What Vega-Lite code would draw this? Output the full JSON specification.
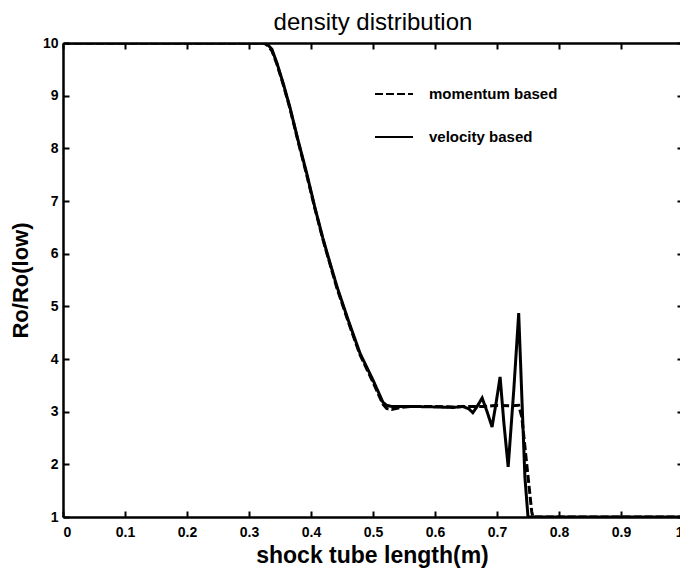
{
  "$schema": "https://vega.github.io/schema/vega-lite/v6.json",
  "width": 620,
  "height": 474,
  "autosize": {"type": "none"},
  "padding": {"left": 63, "top": 43, "right": 0, "bottom": 51},
  "background": "white",
  "title": {
    "text": "density distribution",
    "font": "Liberation Sans",
    "fontSize": 24,
    "fontWeight": "normal",
    "color": "black",
    "anchor": "middle",
    "baseline": "alphabetic",
    "offset": 13,
    "dy": 31
  },
  "data": {
    "values": [
      {"x": 0, "r": 10, "s": "momentum based"},
      {"x": 0.324, "r": 10, "s": "momentum based"},
      {"x": 0.33, "r": 9.95, "s": "momentum based"},
      {"x": 0.337, "r": 9.85, "s": "momentum based"},
      {"x": 0.345, "r": 9.6, "s": "momentum based"},
      {"x": 0.355, "r": 9.22, "s": "momentum based"},
      {"x": 0.366, "r": 8.76, "s": "momentum based"},
      {"x": 0.379, "r": 8.14, "s": "momentum based"},
      {"x": 0.393, "r": 7.5, "s": "momentum based"},
      {"x": 0.406, "r": 6.87, "s": "momentum based"},
      {"x": 0.419, "r": 6.28, "s": "momentum based"},
      {"x": 0.426, "r": 5.99, "s": "momentum based"},
      {"x": 0.442, "r": 5.34, "s": "momentum based"},
      {"x": 0.46, "r": 4.71, "s": "momentum based"},
      {"x": 0.479, "r": 4.08, "s": "momentum based"},
      {"x": 0.5, "r": 3.56, "s": "momentum based"},
      {"x": 0.516, "r": 3.14, "s": "momentum based"},
      {"x": 0.522, "r": 3.06, "s": "momentum based"},
      {"x": 0.53, "r": 3.04, "s": "momentum based"},
      {"x": 0.545, "r": 3.08, "s": "momentum based"},
      {"x": 0.56, "r": 3.1, "s": "momentum based"},
      {"x": 0.6, "r": 3.1, "s": "momentum based"},
      {"x": 0.63, "r": 3.09, "s": "momentum based"},
      {"x": 0.66, "r": 3.1, "s": "momentum based"},
      {"x": 0.68, "r": 3.1, "s": "momentum based"},
      {"x": 0.7, "r": 3.12, "s": "momentum based"},
      {"x": 0.72, "r": 3.11, "s": "momentum based"},
      {"x": 0.735, "r": 3.12, "s": "momentum based"},
      {"x": 0.74, "r": 2.9, "s": "momentum based"},
      {"x": 0.748, "r": 2.0, "s": "momentum based"},
      {"x": 0.756, "r": 1.1, "s": "momentum based"},
      {"x": 0.758, "r": 1, "s": "momentum based"},
      {"x": 1, "r": 1, "s": "momentum based"},
      {"x": 0, "r": 10, "s": "velocity based"},
      {"x": 0.325, "r": 10, "s": "velocity based"},
      {"x": 0.33, "r": 9.97, "s": "velocity based"},
      {"x": 0.337, "r": 9.88, "s": "velocity based"},
      {"x": 0.345, "r": 9.62, "s": "velocity based"},
      {"x": 0.355, "r": 9.24, "s": "velocity based"},
      {"x": 0.366, "r": 8.78, "s": "velocity based"},
      {"x": 0.379, "r": 8.16, "s": "velocity based"},
      {"x": 0.393, "r": 7.53, "s": "velocity based"},
      {"x": 0.406, "r": 6.89, "s": "velocity based"},
      {"x": 0.419, "r": 6.3, "s": "velocity based"},
      {"x": 0.426, "r": 6.01, "s": "velocity based"},
      {"x": 0.442, "r": 5.37, "s": "velocity based"},
      {"x": 0.46, "r": 4.74, "s": "velocity based"},
      {"x": 0.479, "r": 4.11, "s": "velocity based"},
      {"x": 0.5, "r": 3.6, "s": "velocity based"},
      {"x": 0.516, "r": 3.18, "s": "velocity based"},
      {"x": 0.522, "r": 3.12, "s": "velocity based"},
      {"x": 0.53, "r": 3.1, "s": "velocity based"},
      {"x": 0.56, "r": 3.1, "s": "velocity based"},
      {"x": 0.6, "r": 3.09, "s": "velocity based"},
      {"x": 0.63, "r": 3.08, "s": "velocity based"},
      {"x": 0.645, "r": 3.1, "s": "velocity based"},
      {"x": 0.655, "r": 3.05, "s": "velocity based"},
      {"x": 0.661, "r": 2.98, "s": "velocity based"},
      {"x": 0.668, "r": 3.1, "s": "velocity based"},
      {"x": 0.676, "r": 3.26, "s": "velocity based"},
      {"x": 0.684, "r": 3.0, "s": "velocity based"},
      {"x": 0.692, "r": 2.71, "s": "velocity based"},
      {"x": 0.699, "r": 3.2, "s": "velocity based"},
      {"x": 0.705, "r": 3.66, "s": "velocity based"},
      {"x": 0.711, "r": 2.8, "s": "velocity based"},
      {"x": 0.718, "r": 1.95, "s": "velocity based"},
      {"x": 0.727, "r": 3.4, "s": "velocity based"},
      {"x": 0.735, "r": 4.87, "s": "velocity based"},
      {"x": 0.74, "r": 3.3, "s": "velocity based"},
      {"x": 0.745, "r": 1.76, "s": "velocity based"},
      {"x": 0.75, "r": 1, "s": "velocity based"},
      {"x": 1, "r": 1, "s": "velocity based"}
    ]
  },
  "layer": [
    {
      "mark": {"type": "line", "strokeWidth": 3, "clip": true},
      "encoding": {
        "x": {
          "field": "x", "type": "quantitative",
          "scale": {"domain": [0, 1], "nice": false, "zero": false},
          "axis": {
            "orient": "bottom",
            "values": [0, 0.1, 0.2, 0.3, 0.4, 0.5, 0.6, 0.7, 0.8, 0.9, 1],
            "format": "~g",
            "tickSize": -6,
            "labelPadding": 14,
            "title": "shock tube length(m)",
            "titleFontSize": 23,
            "titleX": 309,
            "titleY": 45,
            "titleBaseline": "alphabetic"
          }
        },
        "y": {
          "field": "r", "type": "quantitative",
          "scale": {"domain": [1, 10], "nice": false, "zero": false},
          "axis": {
            "orient": "left",
            "values": [1, 2, 3, 4, 5, 6, 7, 8, 9, 10],
            "tickSize": -6,
            "labelPadding": 11,
            "title": "Ro/Ro(low)",
            "titleFontSize": 22,
            "titleX": -31,
            "titleY": 237,
            "titleAngle": -90,
            "titleAlign": "center",
            "titleBaseline": "bottom"
          }
        },
        "strokeDash": {
          "field": "s", "type": "nominal",
          "scale": {"domain": ["momentum based", "velocity based"], "range": [[8, 3], [1, 0]]},
          "legend": {
            "title": null,
            "orient": "none",
            "legendX": 311,
            "legendY": 31,
            "symbolType": "stroke",
            "symbolSize": 1444,
            "symbolStrokeWidth": 2,
            "symbolStrokeColor": "black",
            "labelFont": "Liberation Sans",
            "labelFontSize": 15,
            "labelFontWeight": "bold",
            "labelColor": "black",
            "labelOffset": 15,
            "rowPadding": 15
          }
        },
        "color": {"value": "black"}
      }
    },
    {
      "mark": {"type": "point", "opacity": 0},
      "encoding": {
        "x": {
          "field": "x", "type": "quantitative",
          "scale": {"domain": [0, 1], "nice": false, "zero": false},
          "axis": {
            "orient": "top",
            "values": [0, 0.1, 0.2, 0.3, 0.4, 0.5, 0.6, 0.7, 0.8, 0.9, 1],
            "tickSize": -6,
            "labels": false,
            "title": null
          }
        },
        "y": {
          "field": "r", "type": "quantitative",
          "scale": {"domain": [1, 10], "nice": false, "zero": false},
          "axis": {
            "orient": "right",
            "values": [1, 2, 3, 4, 5, 6, 7, 8, 9, 10],
            "tickSize": -6,
            "labels": false,
            "title": null
          }
        }
      }
    }
  ],
  "resolve": {"axis": {"x": "independent", "y": "independent"}},
  "config": {
    "view": {"stroke": null},
    "axis": {
      "grid": false,
      "domainColor": "black",
      "domainWidth": 2.5,
      "tickColor": "black",
      "tickWidth": 2,
      "labelFont": "Liberation Sans",
      "labelFontSize": 14,
      "labelFontWeight": "bold",
      "labelColor": "black",
      "titleFont": "Liberation Sans",
      "titleFontWeight": "bold",
      "titleColor": "black"
    }
  }
}
